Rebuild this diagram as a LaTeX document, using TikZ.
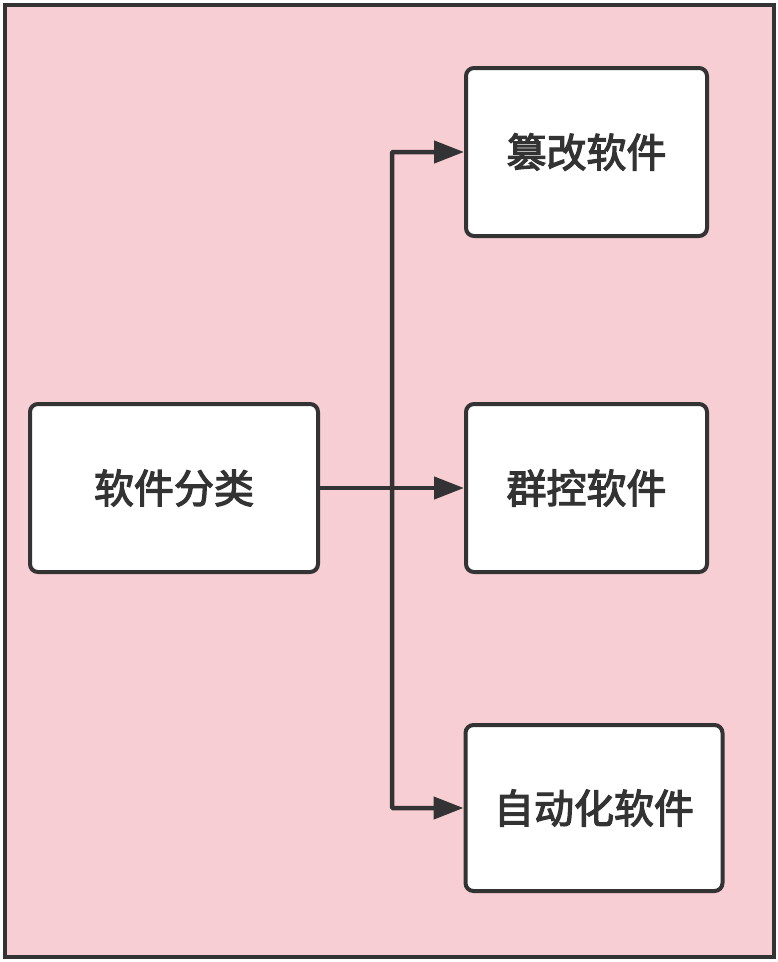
\documentclass[tikz,border=0pt]{standalone}
\usepackage{fontspec}
\newfontfamily\cjk{Noto Sans CJK SC}[FakeBold=3]
\usetikzlibrary{arrows.meta}
\definecolor{bgpink}{HTML}{F7CED3}
\definecolor{ink}{HTML}{333333}
\tikzset{
  boxnode/.style={draw=ink, line width=4pt, fill=white, rounded corners=8pt, inner sep=0pt, font=\cjk\fontsize{40}{46}\selectfont, text=ink},
  conn/.style={draw=ink, line width=4.5pt, -{Triangle[length=30pt,width=22pt]}},
  plain/.style={draw=ink, line width=4.5pt}
}
\begin{document}
\begin{tikzpicture}[x=1pt,y=-1pt]
\useasboundingbox (0,0) rectangle (778,962);
\draw[draw=ink, fill=bgpink, line width=4.5pt] (5,5) rectangle (774,957);
\node[boxnode, minimum width=288pt, minimum height=168pt] (root) at (174,488) {软件分类};
\node[boxnode, minimum width=241pt, minimum height=168pt] (a) at (586.5,152) {篡改软件};
\node[boxnode, minimum width=241pt, minimum height=168pt] (b) at (586.5,488) {群控软件};
\node[boxnode, minimum width=257pt, minimum height=166pt] (c) at (594,808) {自动化软件};
\coordinate (j) at (392,488);
\draw[plain] (root.east) -- (j);
\draw[conn] (j) -- (b.west);
\draw[conn, rounded corners=1pt] (j) |- (a.west);
\draw[conn, rounded corners=1pt] (j) |- (c.west);
\end{tikzpicture}
\end{document}
